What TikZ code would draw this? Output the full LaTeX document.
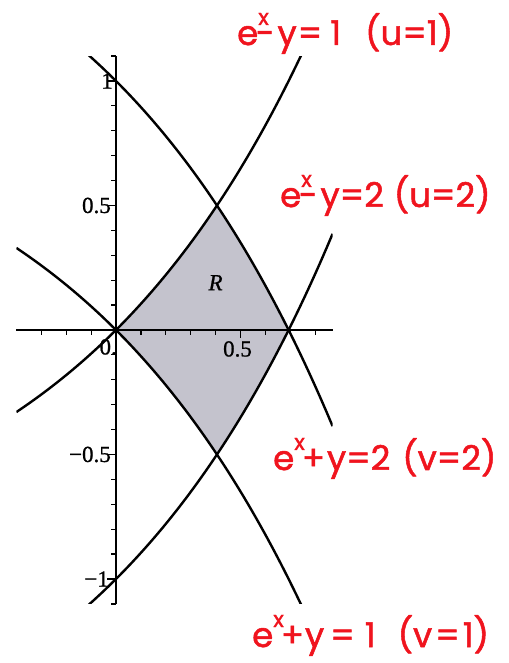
\documentclass[tikz,border=0pt]{standalone}
\usepackage{fontspec}
\setmainfont{Liberation Serif}[FakeBold=0.8]
\newfontfamily\hand{Poppins}[FakeBold=1.5]
\newcommand{\supx}{\raisebox{20pt}{\fontsize{22}{22}\selectfont x}}
\definecolor{regioncol}{RGB}{196,195,205}
\definecolor{handred}{RGB}{240,20,30}
\begin{document}
\begin{tikzpicture}[x=1pt,y=1pt,
  curve/.style={line width=2.4pt,black},
  axisline/.style={line width=1.8pt,black},
  tickline/.style={line width=1.2pt,black},
  ticklabel/.style={font=\fontsize{23}{23}\selectfont,inner sep=0pt},
  handlabel/.style={font=\hand\fontsize{34}{34}\selectfont,text=handred,inner sep=0pt,anchor=base west}]
\useasboundingbox (0,0) rectangle (508,663);
\fill[white] (0,0) rectangle (508,663);
\begin{scope}[shift={(116pt,333pt)},x=249pt,y=249pt]
  % region R
  \fill[regioncol] plot[domain=0:0.405465,samples=30] (\x,{exp(\x)-1})
     -- plot[domain=0.405465:0.693147,samples=30] (\x,{2-exp(\x)})
     -- plot[domain=0.693147:0.405465,samples=30] (\x,{exp(\x)-2})
     -- plot[domain=0.405465:0,samples=30] (\x,{1-exp(\x)}) -- cycle;
  % axes
  \coordinate (xl) at (-0.4,0);
  \coordinate (xr) at (0.87,0);
  \coordinate (yb) at (0,-1.1);
  \coordinate (yt) at (0,1.1);
  \draw[axisline] (xl) -- (xr);
  \draw[axisline] (yb) -- (yt);
  \foreach \t in {-0.3,-0.2,-0.1,0.1,0.2,0.3,0.4,0.6,0.7,0.8}
    \draw[tickline] (\t,0) -- ++(0,-5pt);
  \draw[tickline] (0.5,0) -- ++(0,-8pt);
  \foreach \t in {-1.1,-0.9,-0.8,-0.7,-0.6,-0.4,-0.3,-0.2,-0.1,0.1,0.2,0.3,0.4,0.6,0.7,0.8,0.9,1.1}
    \draw[tickline] (0,\t) -- ++(-5pt,0);
  \foreach \t in {-1,-0.5,0.5,1}
    \draw[tickline] (0,\t) -- ++(-9pt,0);
  % labels
  \node[ticklabel,anchor=east] (l1) at ([xshift=-3pt]0,1) {1};
  \node[ticklabel,anchor=east] (l05) at ([xshift=-5pt]0,0.5) {0.5};
  \node[ticklabel,anchor=east] (lm05) at ([xshift=-5pt]0,-0.5) {−0.5};
  \node[ticklabel,anchor=east] (lm1) at ([xshift=-7pt]0,-1) {−1};
  \node[ticklabel,anchor=north east] (l0) at ([xshift=1pt,yshift=-9pt]0,0) {0.};
  \node[ticklabel,anchor=north] (lx05) at ([xshift=-3pt,yshift=-11pt]0.5,0) {0.5};
  \node[ticklabel,font=\fontsize{23}{23}\selectfont\itshape] (R) at (0.40,0.19) {R};
  % curves
  \begin{scope}
    \clip (-0.4,-1.1) rectangle (0.87,1.1);
    \draw[curve] plot[domain=-0.4:0.87,samples=80] (\x,{exp(\x)-1});
    \draw[curve] plot[domain=-0.4:0.87,samples=80] (\x,{1-exp(\x)});
    \draw[curve] plot[domain=-0.12:0.87,samples=80] (\x,{exp(\x)-2});
    \draw[curve] plot[domain=-0.12:0.87,samples=80] (\x,{2-exp(\x)});
  \end{scope}
\end{scope}
% handwritten labels
\node[handlabel] (u1) at (237,618) {e\supx\kern-13pt-\kern3pt y\kern1pt=\kern8pt1\kern24pt(u=1)};
\node[handlabel] (u2) at (280,456) {e\supx\kern-13pt-\kern3pt y=2\kern10pt(u=2)};
\node[handlabel] (v2) at (273,193) {e\supx\kern-3pt+\kern2pt y=2\kern12pt(v=2)};
\node[handlabel] (v1) at (252,16) {e\supx\kern-3pt+\kern1pt y\kern6pt=\kern10pt1\kern22pt(v\kern3pt=\kern3pt1)};
\end{tikzpicture}
\end{document}
